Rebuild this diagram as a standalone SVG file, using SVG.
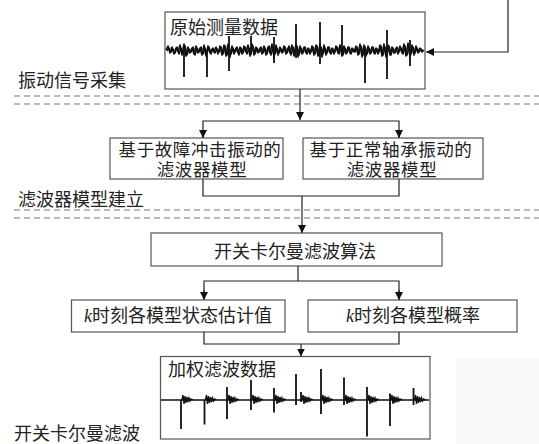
<svg xmlns="http://www.w3.org/2000/svg" xmlns:xlink="http://www.w3.org/1999/xlink" width="539" height="444" viewBox="0 0 539 444">
<style>
.box{fill:#fff;stroke:#555;stroke-width:1.2}
.t{font-family:"Noto Sans CJK SC","Liberation Serif",serif;font-size:18px;fill:#222}
.t2{font-family:"Liberation Serif","Noto Sans CJK SC",serif;font-size:17.5px;letter-spacing:0.6px}
.tc{text-anchor:middle}
.k{font-family:"Liberation Serif",serif;font-style:italic}
.con{fill:none;stroke:#222;stroke-width:1.2}
.dash{stroke:#777;stroke-width:1;stroke-dasharray:6 4}
.wave{fill:none;stroke:#111;stroke-width:1.6;stroke-linejoin:round}
.spk{fill:none;stroke:#111;stroke-width:1.8}
</style>
<defs>
<marker id="ar" viewBox="0 0 8 8" refX="8" refY="4" markerWidth="8" markerHeight="8" markerUnits="userSpaceOnUse" orient="auto">
<path d="M0,0L8,4L0,8Z" fill="#111"/>
</marker>
<path id="burst" d="M0,0 l1,-5 1,9 1,-8 1,7 1,-6 1,5 1,-4 1,3 1,-2 2,1" fill="none" stroke="#111" stroke-width="1.4"/>
</defs>
<rect x="456" y="358" width="83" height="86" fill="#fafafa"/>
<g id="dashes">
<line class="dash" x1="14" y1="96" x2="539" y2="96"/>
<line class="dash" x1="14" y1="104" x2="539" y2="104"/>
<line class="dash" x1="14" y1="210" x2="539" y2="210"/>
<line class="dash" x1="14" y1="218" x2="539" y2="218"/>
</g>
<g id="labels">
<text class="t" x="18" y="87">振动信号采集</text>
<text class="t" x="18" y="206">滤波器模型建立</text>
<text class="t" x="14" y="440">开关卡尔曼滤波</text>
</g>
<g id="node-raw">
<rect class="box" x="165" y="12" width="260" height="77"/>
<polyline class="wave" points="166,50 168,46 170,53 172,47 174,54 176,48 178,52 180,45 182,55 184,44 186,56 188,47 190,53 192,48 194,54 196,46 198,53 200,48 202,55 204,45 206,56 208,46 210,53 212,49 214,52 216,47 218,54 220,46 222,55 224,45 226,56 228,44 230,57 232,46 234,54 236,48 238,53 240,47 242,54 244,46 246,52 248,45 250,56 252,44 254,55 256,47 258,53 260,48 262,54 264,46 266,55 268,47 270,53 272,44 274,57 276,45 278,55 280,47 282,53 284,46 286,54 288,48 290,53 292,45 294,56 296,44 298,57 300,46 302,54 304,47 306,53 308,48 310,54 312,46 314,55 316,45 318,56 320,44 322,57 324,45 326,55 328,47 330,53 332,48 334,54 336,46 338,53 340,45 342,56 344,46 346,54 348,47 350,53 352,48 354,52 356,46 358,55 360,44 362,57 364,45 366,56 368,46 370,54 372,47 374,53 376,48 378,54 380,45 382,56 384,44 386,57 388,45 390,55 392,47 394,53 396,48 398,54 400,46 402,53 404,44 406,56 408,43 410,57 412,45 414,55 416,46 418,53 420,48 422,52 424,50"/>
<polyline class="wave" stroke-width="1.1" points="167,51 169,48 171,52 173,49 175,53 177,47 179,54 181,48 183,53 185,46 187,55 189,49 191,52 193,47 195,55 197,48 199,52 201,47 203,54 205,48 207,53 209,47 211,54 213,48 215,53 217,49 219,52 221,47 223,54 225,46 227,55 229,47 231,54 233,48 235,52 237,47 239,55 241,48 243,53 245,47 247,54 249,48 251,53 253,46 255,54 257,48 259,52 261,47 263,53 265,48 267,54 269,46 271,55 273,47 275,54 277,48 279,53 281,49 283,52 285,47 287,53 289,46 291,55 293,47 295,54 297,46 299,55 301,48 303,53 305,47 307,54 309,49 311,52 313,47 315,54 317,46 319,55 321,47 323,54 325,48 327,53 329,47 331,54 333,49 335,52 337,47 339,54 341,46 343,55 345,48 347,53 349,47 351,54 353,49 355,52 357,47 359,54 361,46 363,55 365,47 367,54 369,48 371,53 373,47 375,54 377,49 379,52 381,46 383,55 385,47 387,54 389,46 391,55 393,48 395,53 397,47 399,52 401,48 403,54 405,46 407,55 409,47 411,54 413,47 415,53 417,48 419,52 421,49 423,51"/>
<path class="spk" d="M184,50V77M207,50V77M229,36V71M251,36V55M274,37V63M296,24V58M320,22V64M342,25V56M365,48V83M387,30V79M410,40V66"/>
<text class="t" x="170" y="34">原始测量数据</text>
</g>
<g id="node-fault">
<rect class="box" x="110" y="138" width="173" height="41"/>
<text class="t t2 tc" x="200" y="156">基于故障冲击振动的</text>
<text class="t t2 tc" x="202" y="176">滤波器模型</text>
</g>
<g id="node-normal">
<rect class="box" x="303" y="138" width="180" height="41"/>
<text class="t t2 tc" x="391" y="156">基于正常轴承振动的</text>
<text class="t t2 tc" x="392" y="176">滤波器模型</text>
</g>
<g id="node-skf">
<rect class="box" x="151" y="233" width="291" height="33"/>
<text class="t tc" x="295" y="258">开关卡尔曼滤波算法</text>
</g>
<g id="node-state">
<rect class="box" x="71.5" y="300" width="213.5" height="32"/>
<text class="t tc" x="178" y="322"><tspan class="k">k</tspan>时刻各模型状态估计值</text>
</g>
<g id="node-prob">
<rect class="box" x="308" y="300" width="209" height="32"/>
<text class="t tc" x="413" y="322"><tspan class="k">k</tspan>时刻各模型概率</text>
</g>
<g id="node-weighted">
<rect class="box" x="160.5" y="356.5" width="269.5" height="82.5"/>
<line x1="161" y1="400" x2="429" y2="400" stroke="#111" stroke-width="1.3"/>
<path class="spk" d="M181,400V429M204.5,400V424.5M227,387V419M251,380V410M274,388V412.5M296,374V405M301,392V402M321,369V414M344,377.5V405M367,387V436.5M390,393.6V426M413.5,388V405"/>
<use xlink:href="#burst" x="182" y="400"/>
<use xlink:href="#burst" x="205.5" y="400"/>
<use xlink:href="#burst" x="228" y="400"/>
<use xlink:href="#burst" x="252" y="400"/>
<use xlink:href="#burst" x="275" y="400"/>
<use xlink:href="#burst" x="302" y="400"/>
<use xlink:href="#burst" x="322" y="400"/>
<use xlink:href="#burst" x="345" y="400"/>
<use xlink:href="#burst" x="368" y="400"/>
<use xlink:href="#burst" x="391" y="400"/>
<use xlink:href="#burst" x="414.5" y="400"/>
<text class="t" x="168" y="376">加权滤波数据</text>
</g>
<g id="connectors">
<polyline class="con" points="508,0 508,52 426,52" marker-end="url(#ar)"/>
<line class="con" x1="300" y1="89" x2="300" y2="120" marker-end="url(#ar)"/>
<polyline class="con" points="203,137 203,121 399,121 399,137"/>
<line class="con" x1="203" y1="130" x2="203" y2="138" marker-end="url(#ar)"/>
<line class="con" x1="399" y1="130" x2="399" y2="138" marker-end="url(#ar)"/>
<polyline class="con" points="203,179 203,196 399,196 399,179"/>
<line class="con" x1="302" y1="196" x2="302" y2="233" marker-end="url(#ar)"/>
<line class="con" x1="298" y1="266" x2="298" y2="281"/>
<polyline class="con" points="204,299 204,281 399,281 399,299"/>
<line class="con" x1="204" y1="290" x2="204" y2="300" marker-end="url(#ar)"/>
<line class="con" x1="399" y1="290" x2="399" y2="300" marker-end="url(#ar)"/>
<polyline class="con" points="204,332 204,344 399,344 399,332"/>
<line class="con" x1="301" y1="344" x2="301" y2="356.5" marker-end="url(#ar)"/>
</g>
</svg>
